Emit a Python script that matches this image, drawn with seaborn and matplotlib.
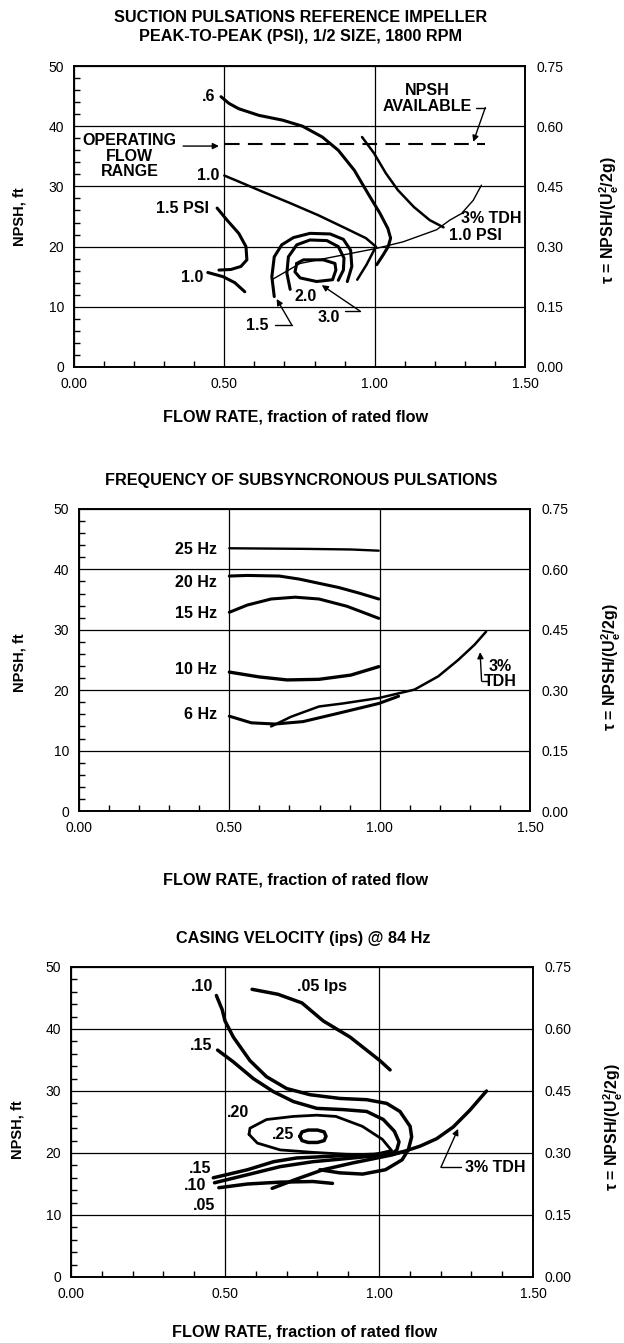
import numpy as np
import pandas as pd
import matplotlib
matplotlib.use("Agg")
import matplotlib.pyplot as plt
from matplotlib.ticker import MultipleLocator, FixedLocator
import seaborn as sns

# ---------------- DATA ----------------
# Panel 1: suction pulsations peak-to-peak (psi)
p1_06_x = [0.489, 0.515, 0.548, 0.615, 0.694, 0.760, 0.826, 0.879, 0.932, 0.978, 1.018, 1.044, 1.053, 1.045, 1.028, 1.007]
p1_06_y = [44.9, 43.8, 42.9, 41.8, 41.0, 40.0, 38.2, 36.0, 32.7, 28.8, 25.5, 23.0, 21.4, 20.0, 18.6, 17.0]
p1_10u_x = [0.500, 0.548, 0.628, 0.720, 0.813, 0.905, 0.971, 1.004, 0.973, 0.942]
p1_10u_y = [31.8, 30.8, 29.1, 27.2, 25.2, 23.0, 21.4, 20.0, 17.0, 14.5]
p1_10r_x = [0.958, 0.998, 1.037, 1.077, 1.130, 1.183, 1.229]
p1_10r_y = [38.2, 35.5, 32.2, 29.4, 26.6, 24.4, 23.2]
p1_15l_x = [0.476, 0.509, 0.548, 0.572, 0.575, 0.555, 0.522, 0.482]
p1_15l_y = [26.4, 24.4, 22.2, 20.0, 17.8, 16.7, 16.2, 16.1]
p1_10l_x = [0.445, 0.496, 0.535, 0.568]
p1_10l_y = [15.7, 15.0, 14.0, 12.5]
p1_15_x = [0.666, 0.658, 0.666, 0.691, 0.730, 0.785, 0.852, 0.896, 0.920, 0.924, 0.909]
p1_15_y = [11.7, 15.0, 18.3, 20.3, 21.5, 22.2, 22.1, 21.2, 19.4, 16.7, 14.2]
p1_20_x = [0.719, 0.708, 0.713, 0.741, 0.785, 0.841, 0.879, 0.898, 0.896, 0.879]
p1_20_y = [12.9, 15.6, 18.3, 20.3, 21.1, 21.0, 20.0, 18.1, 16.1, 14.4]
p1_30_x = [0.741, 0.763, 0.829, 0.868, 0.871, 0.860, 0.807, 0.752, 0.735, 0.741]
p1_30_y = [17.2, 17.8, 17.8, 17.2, 16.1, 14.5, 14.2, 14.8, 15.8, 17.2]
p1_tdh_x = [0.658, 0.752, 0.863, 1.006, 1.095, 1.206, 1.250, 1.289, 1.328, 1.355]
p1_tdh_y = [14.5, 17.2, 18.3, 19.7, 20.8, 22.8, 24.4, 25.5, 27.7, 30.2]
npsh_avail_x = [0.502, 1.368]
npsh_avail_y = [37.0, 37.0]

# Panel 2: frequency of subsynchronous pulsations
p2_25_x = [0.500, 0.750, 0.904, 0.997]
p2_25_y = [43.5, 43.4, 43.3, 43.1]
p2_20_x = [0.500, 0.560, 0.666, 0.732, 0.798, 0.864, 0.930, 0.997]
p2_20_y = [38.9, 39.0, 38.9, 38.4, 37.7, 37.0, 36.1, 35.1]
p2_15_x = [0.500, 0.560, 0.639, 0.719, 0.798, 0.891, 0.997]
p2_15_y = [32.9, 34.1, 35.1, 35.4, 35.1, 33.9, 31.9]
p2_10_x = [0.500, 0.599, 0.692, 0.798, 0.904, 0.997]
p2_10_y = [23.0, 22.2, 21.7, 21.8, 22.5, 23.9]
p2_6_x = [0.500, 0.573, 0.652, 0.745, 0.864, 0.997, 1.063]
p2_6_y = [15.7, 14.6, 14.4, 14.8, 16.2, 17.8, 19.0]
p2_tdh_x = [0.639, 0.705, 0.798, 0.877, 0.997, 1.116, 1.195, 1.261, 1.315, 1.354]
p2_tdh_y = [14.0, 15.6, 17.3, 17.8, 18.7, 20.1, 22.3, 25.0, 27.5, 29.7]

# Panel 3: casing velocity (ips) @ 84 Hz
p3_05u_x = [0.588, 0.672, 0.750, 0.819, 0.906, 1.003, 1.036]
p3_05u_y = [46.4, 45.6, 44.2, 41.3, 38.7, 34.9, 33.4]
p3_10u_x = [0.472, 0.491, 0.500, 0.527, 0.581, 0.635, 0.700, 0.776, 0.873, 0.960, 1.025, 1.068,
            1.101, 1.106, 1.095, 1.075, 1.021, 0.947, 0.872, 0.808]
p3_10u_y = [45.4, 43.1, 41.3, 38.7, 34.9, 32.3, 30.4, 29.4, 28.8, 28.6, 28.0, 26.7,
            24.3, 22.6, 20.5, 18.9, 17.3, 16.6, 16.8, 17.3]
p3_15_x = [0.476, 0.527, 0.592, 0.657, 0.722, 0.798, 0.884, 0.960, 1.014, 1.050, 1.065, 1.058,
           1.043, 0.893, 0.733, 0.658, 0.573, 0.462]
p3_15_y = [36.6, 34.7, 32.0, 29.9, 28.3, 27.2, 27.0, 26.7, 25.4, 23.5, 21.8, 20.5,
           19.9, 19.6, 19.2, 18.6, 17.3, 16.0]
p3_20_x = [0.578, 0.581, 0.635, 0.722, 0.798, 0.860, 0.946, 1.011, 1.041, 0.979, 0.893, 0.786,
           0.679, 0.605, 0.578]
p3_20_y = [23.0, 24.0, 25.4, 25.9, 26.1, 25.9, 24.3, 22.2, 20.4, 19.7, 19.8, 20.1,
           20.5, 21.6, 23.0]
p3_25_x = [0.743, 0.750, 0.770, 0.800, 0.822, 0.828, 0.822, 0.800, 0.770, 0.750, 0.743]
p3_25_y = [22.7, 23.4, 23.7, 23.7, 23.4, 22.7, 22.0, 21.7, 21.7, 22.0, 22.7]
p3_10l_x = [0.466, 0.573, 0.679, 0.786, 0.915, 1.040, 1.080]
p3_10l_y = [15.2, 16.5, 17.8, 18.6, 19.2, 19.8, 20.2]
p3_05l_x = [0.480, 0.573, 0.679, 0.786, 0.849]
p3_05l_y = [14.4, 15.0, 15.3, 15.4, 15.1]
p3_tdh_x = [0.653, 0.733, 0.818, 0.915, 1.043, 1.090, 1.133, 1.187, 1.241, 1.295, 1.349]
p3_tdh_y = [14.3, 15.8, 17.3, 18.4, 19.7, 20.4, 21.1, 22.3, 24.2, 26.9, 30.0]

x_ticks = [0.0, 0.5, 1.0, 1.5]
x_ticklabels = ["0.00", "0.50", "1.00", "1.50"]
y_ticks = [0, 10, 20, 30, 40, 50]
tau_ticks = [0.00, 0.15, 0.30, 0.45, 0.60, 0.75]

# ---------------- STYLE ----------------
sns.set_theme(style="ticks")
plt.rcParams["font.family"] = ["Liberation Sans", "DejaVu Sans"]
plt.rcParams["mathtext.fontset"] = "custom"
plt.rcParams["mathtext.rm"] = "Liberation Sans:bold"
plt.rcParams["mathtext.it"] = "Liberation Sans:bold"
plt.rcParams["mathtext.bf"] = "Liberation Sans:bold"

W, H = 624, 1343
fig = plt.figure(figsize=(W / 100, H / 100), dpi=100)
fig.patch.set_facecolor("white")


def px_axes(l, r, t, b):
    return fig.add_axes([l / W, 1 - b / H, (r - l) / W, (b - t) / H])


def ftext(x, y, s, **kw):
    fig.text(x / W, 1 - y / H, s, ha="center", va="center", **kw)


def curve(ax, x, y, lw=2.2, ls="-"):
    df = pd.DataFrame({"x": x, "y": y})
    sns.lineplot(data=df, x="x", y="y", sort=False, estimator=None, color="black",
                 lw=lw, linestyle=ls, ax=ax, solid_capstyle="round", solid_joinstyle="round")


def setup(ax):
    ax.set_xlim(0, 1.5)
    ax.set_ylim(0, 50)
    ax.set_xlabel("")
    ax.set_ylabel("")
    ax.xaxis.set_major_locator(FixedLocator(x_ticks))
    ax.set_xticklabels(x_ticklabels)
    ax.yaxis.set_major_locator(FixedLocator(y_ticks))
    ax.xaxis.set_minor_locator(MultipleLocator(0.1))
    ax.yaxis.set_minor_locator(MultipleLocator(2))
    ax.tick_params(which="minor", direction="in", length=4, width=1, color="black",
                   left=True, bottom=True, right=False, top=False)
    ax.tick_params(which="major", direction="in", length=0, pad=7, labelsize=10,
                   labelcolor="black")
    ax.grid(True, which="major", color="black", lw=0.9)
    for s in ax.spines.values():
        s.set_color("black")
        s.set_linewidth(1.2)
    ax2 = ax.twinx()
    ax2.set_ylim(0, 0.75)
    ax2.yaxis.set_major_locator(FixedLocator(tau_ticks))
    ax2.set_yticklabels(["%.2f" % v for v in tau_ticks])
    ax2.tick_params(length=0, pad=8, labelsize=10, labelcolor="black")
    ax2.grid(False)
    for s in ax2.spines.values():
        s.set_color("black")
        s.set_linewidth(1.2)
    return ax2


def lead(ax, pts):
    # polyline leader whose last segment ends with an arrow head
    xs = [p[0] for p in pts[:-1]]
    ys = [p[1] for p in pts[:-1]]
    if len(xs) > 1:
        ax.plot(xs, ys, color="black", lw=1.0)
    ax.annotate("", xy=pts[-1], xytext=pts[-2],
                arrowprops=dict(arrowstyle="-|>", color="black", lw=1.0,
                                mutation_scale=9, shrinkA=0, shrinkB=0))


bold = dict(fontweight="bold", color="black")
tau_label = "τ = NPSH/(U$_\\mathbf{e}^{\\mathbf{2}}$/2g)"
fs = 11.5
tfs = 11.7

# ---------------- PANEL 1 ----------------
ax1 = px_axes(74, 525, 66, 367)
curve(ax1, p1_06_x, p1_06_y)
curve(ax1, p1_10u_x, p1_10u_y, lw=1.8)
curve(ax1, p1_10r_x, p1_10r_y, lw=1.8)
curve(ax1, p1_15l_x, p1_15l_y)
curve(ax1, p1_10l_x, p1_10l_y)
curve(ax1, p1_15_x, p1_15_y)
curve(ax1, p1_20_x, p1_20_y)
curve(ax1, p1_30_x, p1_30_y)
curve(ax1, p1_tdh_x, p1_tdh_y, lw=1.0)
curve(ax1, npsh_avail_x, npsh_avail_y, lw=1.5, ls=(0, (7, 4)))
setup(ax1)
ax1.text(0.469, 44.9, ".6", ha="right", va="center", fontsize=fs, **bold)
ax1.text(0.482, 31.8, "1.0", ha="right", va="center", fontsize=fs, **bold)
ax1.text(0.449, 26.4, "1.5 PSI", ha="right", va="center", fontsize=fs, **bold)
ax1.text(0.430, 14.8, "1.0", ha="right", va="center", fontsize=fs, **bold)
ax1.text(0.185, 35.0, "OPERATING\nFLOW\nRANGE", ha="center", va="center", fontsize=fs,
         linespacing=1.05, **bold)
ax1.annotate("", xy=(0.482, 36.7), xytext=(0.363, 36.7),
             arrowprops=dict(arrowstyle="-|>", color="black", lw=1.0, mutation_scale=9,
                             shrinkA=0, shrinkB=0))
ax1.text(1.176, 44.65, "NPSH\nAVAILABLE", ha="center", va="center", fontsize=fs,
         linespacing=1.05, **bold)
lead(ax1, [(1.338, 43.1), (1.368, 43.1), (1.328, 37.4)])
ax1.text(1.388, 24.7, "3% TDH", ha="center", va="center", fontsize=fs, **bold)
ax1.text(1.336, 21.8, "1.0 PSI", ha="center", va="center", fontsize=fs, **bold)
ax1.text(0.772, 11.7, "2.0", ha="center", va="center", fontsize=fs, **bold)
ax1.text(0.846, 8.3, "3.0", ha="center", va="center", fontsize=fs, **bold)
lead(ax1, [(0.901, 9.3), (0.951, 9.3), (0.824, 13.6)])
ax1.text(0.608, 6.9, "1.5", ha="center", va="center", fontsize=fs, **bold)
lead(ax1, [(0.669, 7.0), (0.724, 7.0), (0.674, 11.3)])
ftext(301, 17, "SUCTION PULSATIONS REFERENCE IMPELLER", fontsize=tfs, **bold)
ftext(301, 36, "PEAK-TO-PEAK (PSI), 1/2 SIZE, 1800 RPM", fontsize=tfs, **bold)
ftext(296, 417, "FLOW RATE, fraction of rated flow", fontsize=tfs, **bold)
ftext(20, 217, "NPSH, ft", fontsize=10.5, rotation=90, **bold)
ftext(609, 220, tau_label, fontsize=11.5, rotation=90, **bold)

# ---------------- PANEL 2 ----------------
ax2 = px_axes(79, 530, 509, 811)
curve(ax2, p2_25_x, p2_25_y, lw=1.7)
curve(ax2, p2_20_x, p2_20_y)
curve(ax2, p2_15_x, p2_15_y)
curve(ax2, p2_10_x, p2_10_y, lw=2.4)
curve(ax2, p2_6_x, p2_6_y)
curve(ax2, p2_tdh_x, p2_tdh_y, lw=1.8)
setup(ax2)
for lab, yy in [("25 Hz", 43.3), ("20 Hz", 37.8), ("15 Hz", 32.7), ("10 Hz", 23.4), ("6 Hz", 15.9)]:
    ax2.text(0.460, yy, lab, ha="right", va="center", fontsize=fs, **bold)
ax2.text(1.40, 22.7, "3%\nTDH", ha="center", va="center", fontsize=fs, linespacing=1.0, **bold)
lead(ax2, [(1.362, 21.5), (1.339, 21.5), (1.334, 26.3)])
ftext(301, 480, "FREQUENCY OF SUBSYNCRONOUS PULSATIONS", fontsize=tfs, **bold)
ftext(296, 880, "FLOW RATE, fraction of rated flow", fontsize=tfs, **bold)
ftext(20, 663, "NPSH, ft", fontsize=10.5, rotation=90, **bold)
ftext(611, 667, tau_label, fontsize=11.5, rotation=90, **bold)

# ---------------- PANEL 3 ----------------
ax3 = px_axes(71, 533, 967, 1277)
curve(ax3, p3_05u_x, p3_05u_y, lw=2.5)
curve(ax3, p3_10u_x, p3_10u_y, lw=2.5)
curve(ax3, p3_15_x, p3_15_y, lw=2.5)
curve(ax3, p3_20_x, p3_20_y, lw=2.0)
curve(ax3, p3_25_x, p3_25_y, lw=2.5)
curve(ax3, p3_10l_x, p3_10l_y, lw=2.5)
curve(ax3, p3_05l_x, p3_05l_y, lw=2.5)
curve(ax3, p3_tdh_x, p3_tdh_y, lw=2.5)
setup(ax3)
ax3.text(0.424, 46.8, ".10", ha="center", va="center", fontsize=fs, **bold)
ax3.text(0.815, 46.8, ".05 Ips", ha="center", va="center", fontsize=fs, **bold)
ax3.text(0.424, 37.3, ".15", ha="center", va="center", fontsize=fs, **bold)
ax3.text(0.543, 26.5, ".20", ha="center", va="center", fontsize=fs, **bold)
ax3.text(0.688, 23.0, ".25", ha="center", va="center", fontsize=fs, **bold)
ax3.text(0.420, 17.5, ".15", ha="center", va="center", fontsize=fs, **bold)
ax3.text(0.403, 14.8, ".10", ha="center", va="center", fontsize=fs, **bold)
ax3.text(0.433, 11.6, ".05", ha="center", va="center", fontsize=fs, **bold)
ax3.text(1.376, 17.7, "3% TDH", ha="center", va="center", fontsize=fs, **bold)
lead(ax3, [(1.265, 17.7), (1.201, 17.7), (1.257, 23.9)])
ftext(303, 939, "CASING VELOCITY (ips) @ 84 Hz", fontsize=tfs, **bold)
ftext(305, 1332, "FLOW RATE, fraction of rated flow", fontsize=tfs, **bold)
ftext(18, 1130, "NPSH, ft", fontsize=10.5, rotation=90, **bold)
ftext(613, 1127, tau_label, fontsize=11.5, rotation=90, **bold)

fig.savefig("out.png", dpi=100, facecolor="white")
